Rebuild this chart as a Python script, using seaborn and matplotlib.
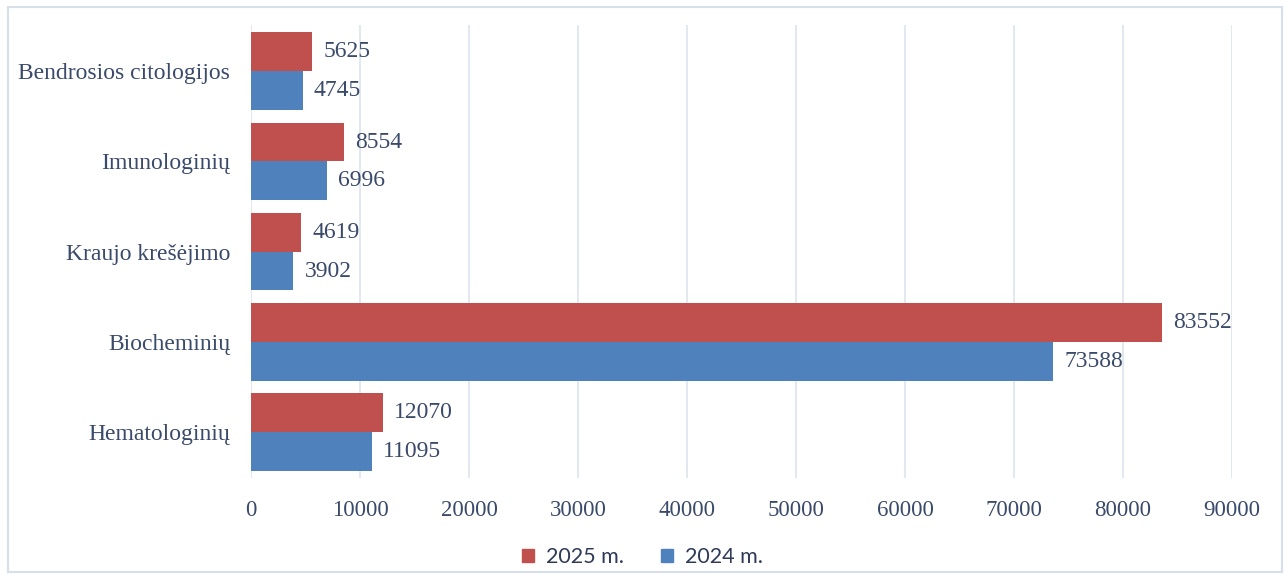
import pandas as pd
import matplotlib.pyplot as plt
import seaborn as sns
from matplotlib.patches import Rectangle

# 数据
kategorijos = ['Bendrosios citologijos', 'Imunologinių', 'Kraujo krešėjimo', 'Biocheminių', 'Hematologinių']
metai_2025 = [5625, 8554, 4619, 83552, 12070]
metai_2024 = [4745, 6996, 3902, 73588, 11095]
serijos = ['2025 m.', '2024 m.']
x_ticks = [0, 10000, 20000, 30000, 40000, 50000, 60000, 70000, 80000, 90000]

df = pd.DataFrame({
    'kategorija': kategorijos * 2,
    'reiksme': metai_2025 + metai_2024,
    'serija': [serijos[0]] * 5 + [serijos[1]] * 5,
})

sns.set_theme(style='white')
plt.rcParams['font.family'] = ['Liberation Serif', 'DejaVu Serif']

text_color = '#3a4a6a'
spalvos = {'2025 m.': '#C0504D', '2024 m.': '#4F81BD'}

fig = plt.figure(figsize=(12.85, 5.74), dpi=100)
ax = fig.add_axes([0.1953, 0.167, 0.9588 - 0.1953, 0.956 - 0.167])

sns.barplot(data=df, y='kategorija', x='reiksme', hue='serija', order=kategorijos,
            hue_order=serijos, palette=spalvos, orient='h', width=0.86,
            saturation=1, linewidth=0, ax=ax, legend=False)

# reikšmių etiketės
for cont in ax.containers:
    ax.bar_label(cont, labels=[f'{int(v)}' for v in cont.datavalues], padding=8,
                 fontsize=17, color=text_color)

ax.set_xlim(0, 90000)
ax.set_ylim(4.51, -0.51)
ax.set_xticks(x_ticks)
ax.set_xticklabels([str(t) for t in x_ticks])
ax.set_xlabel('')
ax.set_ylabel('')
ax.tick_params(axis='x', labelsize=16.5, labelcolor=text_color, length=0, pad=16)
ax.tick_params(axis='y', labelsize=17, labelcolor=text_color, length=0, pad=15)
ax.xaxis.grid(True, color='#dde4ee', linewidth=1.2)
ax.set_axisbelow(True)
for s in ax.spines.values():
    s.set_visible(False)

# legenda
handles = [Rectangle((0, 0), 1, 1, color=spalvos[s]) for s in serijos]
fig.legend(handles, serijos, loc='center', bbox_to_anchor=(0.5, 0.03), ncol=2,
           frameon=False, handlelength=0.56, handleheight=0.56, columnspacing=1.7,
           handletextpad=0.55, prop={'family': ['Lato', 'DejaVu Sans'], 'size': 15.5},
           labelcolor='#2e3a58')

# rėmelis
fig.patches.append(Rectangle((0.006, 0.004), 0.992, 0.984, transform=fig.transFigure,
                             fill=False, edgecolor='#d6e0ec', linewidth=1.5))

fig.savefig('out.png', dpi=100)
